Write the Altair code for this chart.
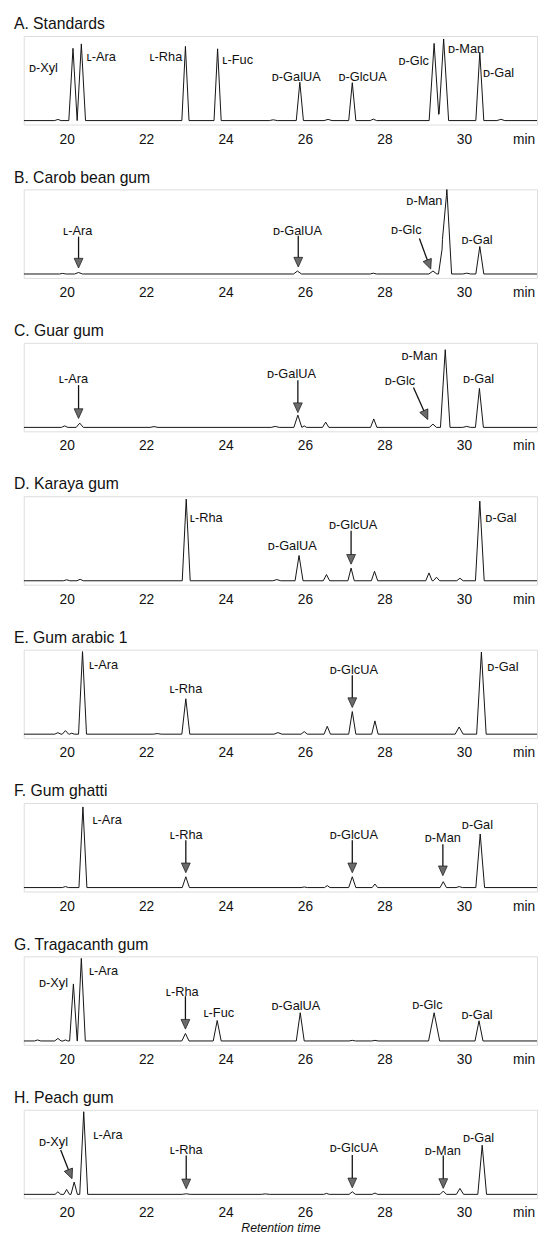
import altair as alt
import pandas as pd

FONT = "Liberation Sans, Arial, DejaVu Sans, sans-serif"
X_MIN, X_MAX = 18.92, 31.84
Y_MIN, Y_MAX = -4, 86
PLOT_W, PLOT_H = 522, 90

tick_values = [20, 22, 24, 26, 28, 30, 31.5]

titles = ["A. Standards", "B. Carob bean gum", "C. Guar gum", "D. Karaya gum",
          "E. Gum arabic 1", "F. Gum ghatti", "G. Tragacanth gum", "H. Peach gum"]

# peaks: (retention time, height, half base width)
peaks_A = [(19.78, 1.2, 0.08), (20.16, 73.5, 0.105), (20.37, 78, 0.105), (22.99, 75.5, 0.09),
           (23.80, 73, 0.09), (25.2, 0.8, 0.1), (25.87, 39, 0.09), (26.58, 1.2, 0.1),
           (27.19, 38.5, 0.09), (27.72, 1.5, 0.08), (29.25, 78.5, 0.125), (29.49, 83, 0.125),
           (30.40, 69.5, 0.1), (30.93, 1.3, 0.1)]
peaks_B = [(19.9, 0.6, 0.08), (20.3, 1.5, 0.1), (25.81, 3, 0.1), (27.72, 0.8, 0.08),
           (29.22, 3, 0.1), (29.46, 28, 0.1), (29.57, 87, 0.12), (30.07, 0.8, 0.1),
           (30.40, 28, 0.1)]
peaks_C = [(19.95, 1.5, 0.08), (20.33, 4.3, 0.09), (22.2, 0.8, 0.1), (25.25, 1, 0.1),
           (25.82, 12.5, 0.1), (25.98, 1.5, 0.06), (26.52, 5.3, 0.08), (27.73, 8.6, 0.08),
           (29.22, 3.3, 0.09), (29.53, 79, 0.12), (30.07, 1, 0.1), (30.39, 39.6, 0.1)]
peaks_D = [(20.0, 1, 0.08), (20.34, 1.5, 0.08), (23.01, 83, 0.1), (25.29, 1.2, 0.1),
           (25.85, 25.7, 0.1), (26.54, 6.3, 0.08), (27.16, 12.9, 0.08), (27.75, 9.6, 0.08),
           (29.12, 8, 0.08), (29.31, 3.6, 0.08), (29.9, 2.6, 0.08), (30.40, 81, 0.11)]
peaks_E = [(19.78, 1.5, 0.08), (19.97, 3.6, 0.08), (20.13, 1, 0.06), (20.40, 84, 0.1),
           (22.28, 0.6, 0.1), (23.0, 36, 0.1), (25.32, 1.6, 0.1), (25.98, 2.6, 0.08),
           (26.56, 8, 0.08), (27.19, 23, 0.09), (27.76, 13.5, 0.08), (29.88, 7.3, 0.1),
           (30.44, 83.5, 0.12)]
peaks_F = [(19.97, 1, 0.08), (20.41, 82, 0.1), (23.0, 11, 0.09), (25.98, 0.6, 0.08),
           (26.56, 2, 0.07), (27.19, 11, 0.09), (27.76, 3.6, 0.07), (29.48, 6, 0.08),
           (29.88, 1, 0.08), (30.41, 54.5, 0.11)]
peaks_G = [(19.27, 1, 0.08), (19.78, 2.6, 0.08), (19.97, 1, 0.06), (20.17, 58, 0.095),
           (20.37, 84, 0.1), (22.99, 7.6, 0.09), (23.79, 20.8, 0.1), (25.88, 28.7, 0.1),
           (27.19, 0.6, 0.08), (27.76, 0.6, 0.08), (29.25, 28.7, 0.14), (30.38, 20.5, 0.1)]
peaks_H = [(19.78, 2.6, 0.07), (20.0, 5, 0.07), (20.19, 12.5, 0.08), (20.43, 84, 0.1),
           (23.01, 0.6, 0.1), (25.0, 0.5, 0.1), (26.54, 1, 0.07), (27.19, 2.6, 0.08),
           (27.76, 1.3, 0.07), (29.48, 3.3, 0.08), (29.9, 6, 0.09), (30.46, 50, 0.11)]

# labels: (text, retention time, height, align)
labels_A = [("ᴅ-Xyl", 19.05, 53, "left"), ("ʟ-Ara", 20.5, 65, "left"), ("ʟ-Rha", 22.91, 65, "right"),
            ("ʟ-Fuc", 23.92, 62, "left"), ("ᴅ-GalUA", 25.78, 44.5, "center"),
            ("ᴅ-GlcUA", 27.45, 44.5, "center"), ("ᴅ-Glc", 29.12, 61, "right"),
            ("ᴅ-Man", 29.6, 73, "left"), ("ᴅ-Gal", 30.48, 48, "left")]
labels_B = [("ʟ-Ara", 20.28, 44, "center"), ("ᴅ-GalUA", 25.81, 44, "center"),
            ("ᴅ-Glc", 28.55, 45, "center"), ("ᴅ-Man", 29.46, 74, "right"), ("ᴅ-Gal", 30.33, 34, "center")]
labels_C = [("ʟ-Ara", 20.17, 49, "center"), ("ᴅ-GalUA", 25.66, 54, "center"),
            ("ᴅ-Glc", 28.39, 47, "center"), ("ᴅ-Man", 29.34, 72.6, "right"), ("ᴅ-Gal", 30.37, 49, "center")]
labels_D = [("ʟ-Rha", 23.1, 64, "left"), ("ᴅ-GalUA", 25.68, 35, "center"),
            ("ᴅ-GlcUA", 27.21, 56.4, "center"), ("ᴅ-Gal", 30.54, 64, "left")]
labels_E = [("ʟ-Ara", 20.56, 70, "left"), ("ʟ-Rha", 23.0, 45.5, "center"),
            ("ᴅ-GlcUA", 27.23, 65, "center"), ("ᴅ-Gal", 30.59, 68.6, "left")]
labels_F = [("ʟ-Ara", 20.65, 68.6, "left"), ("ʟ-Rha", 23.01, 53, "center"),
            ("ᴅ-GlcUA", 27.23, 53, "center"), ("ᴅ-Man", 29.47, 50, "center"), ("ᴅ-Gal", 30.34, 63.7, "center")]
labels_G = [("ᴅ-Xyl", 19.67, 59, "center"), ("ʟ-Ara", 20.56, 71, "left"), ("ʟ-Rha", 22.91, 50, "center"),
            ("ʟ-Fuc", 23.83, 28.4, "center"), ("ᴅ-GalUA", 25.77, 35.6, "center"),
            ("ᴅ-Glc", 29.08, 37, "center"), ("ᴅ-Gal", 30.33, 26.4, "center")]
labels_H = [("ᴅ-Xyl", 19.67, 53, "center"), ("ʟ-Ara", 20.67, 60, "left"), ("ʟ-Rha", 23.01, 45.5, "center"),
            ("ᴅ-GlcUA", 27.23, 47, "center"), ("ᴅ-Man", 29.47, 44.5, "center"), ("ᴅ-Gal", 30.37, 56.8, "center")]

# arrows: (start rt, start height, head rt, head height, head rotation)
arrows_A = []
arrows_B = [(20.3, 38, 20.3, 11, 0), (25.83, 39, 25.83, 12, 0), (28.88, 36, 29.12, 9.6, 339)]
arrows_C = [(20.3, 43, 20.3, 14, 0), (25.82, 48, 25.82, 20, 0), (28.73, 40.6, 29.04, 12.5, 336)]
arrows_D = [(27.16, 50.8, 27.16, 21.8, 0)]
arrows_E = [(27.19, 60, 27.19, 32, 0)]
arrows_F = [(23.0, 48, 23.0, 20, 0), (27.19, 48, 27.19, 20, 0), (29.47, 44, 29.47, 17, 0)]
arrows_G = [(22.99, 45.5, 22.99, 17, 0)]
arrows_H = [(19.85, 45, 20.09, 20.5, 338), (23.01, 39.6, 23.01, 10.6, 0),
            (27.19, 40, 27.19, 11.6, 0), (29.48, 39.6, 29.48, 11, 0)]

all_peaks = [peaks_A, peaks_B, peaks_C, peaks_D, peaks_E, peaks_F, peaks_G, peaks_H]
all_labels = [labels_A, labels_B, labels_C, labels_D, labels_E, labels_F, labels_G, labels_H]
all_arrows = [arrows_A, arrows_B, arrows_C, arrows_D, arrows_E, arrows_F, arrows_G, arrows_H]


def trace_table(peaks):
    xs = {X_MIN, X_MAX}
    for rt, h, w in peaks:
        xs.update([rt - w, rt, rt + w])
    xs = sorted(x for x in xs if X_MIN <= x <= X_MAX)

    def sig(x):
        return sum(max(0.0, h * (1 - abs(x - rt) / w)) for rt, h, w in peaks)

    return pd.DataFrame({"t": xs, "s": [sig(x) for x in xs]})


xscale = alt.Scale(domain=[X_MIN, X_MAX], nice=False, zero=False)
yscale = alt.Scale(domain=[Y_MIN, Y_MAX], nice=False, zero=False)
HEAD = "M-1,-1.1L1,-1.1L0,1.1Z"


def panel(i):
    last = i == 7
    axis = alt.Axis(values=tick_values, labelExpr="datum.value > 31 ? 'min' : datum.label",
                    ticks=False, domain=False, grid=False, labelPadding=8,
                    labelFontSize=14, labelFont=FONT, labelColor="#111",
                    title="Retention time" if last else None,
                    titleFont=FONT, titleFontSize=12.5, titleFontStyle="italic",
                    titleFontWeight="normal", titleColor="#111", titlePadding=2)
    line = alt.Chart(trace_table(all_peaks[i])).mark_line(
        color="#111", strokeWidth=1, clip=True
    ).encode(x=alt.X("t:Q", scale=xscale, axis=axis),
             y=alt.Y("s:Q", scale=yscale, axis=None))
    layers = [line]
    arr = all_arrows[i]
    if arr:
        adf = pd.DataFrame(arr, columns=["x1", "y1", "x2", "y2", "ang"])
        shaft = alt.Chart(adf).mark_rule(color="#111", strokeWidth=1.3).encode(
            x="x1:Q", y="y1:Q", x2="x2:Q", y2="y2:Q")
        head = alt.Chart(adf).mark_point(
            shape=HEAD, filled=True, fill="#6b6b6b", stroke="#222", strokeWidth=0.8,
            size=80, opacity=1
        ).encode(x="x2:Q", y="y2:Q", angle=alt.Angle("ang:Q", scale=None))
        layers += [shaft, head]
    ldf = pd.DataFrame(all_labels[i], columns=["label", "t", "s", "align"])
    for al in ["left", "center", "right"]:
        sub = ldf[ldf["align"] == al]
        if len(sub):
            layers.append(alt.Chart(sub).mark_text(
                align=al, baseline="middle", font=FONT, fontSize=13, color="#111"
            ).encode(x="t:Q", y="s:Q", text="label:N"))
    return alt.layer(*layers).properties(
        width=PLOT_W, height=PLOT_H,
        title=alt.TitleParams(titles[i], anchor="start", dx=-10, fontSize=16, font=FONT,
                              fontWeight="normal", color="#111", offset=4))


chart = alt.vconcat(*[panel(i) for i in range(8)], spacing=22).properties(
    padding={"left": 5, "top": -3, "right": 0, "bottom": 0}
).configure_view(stroke="#666", strokeWidth=1).configure(background="white")

chart.save("out.html", embed_options={"renderer": "svg", "actions": False})
